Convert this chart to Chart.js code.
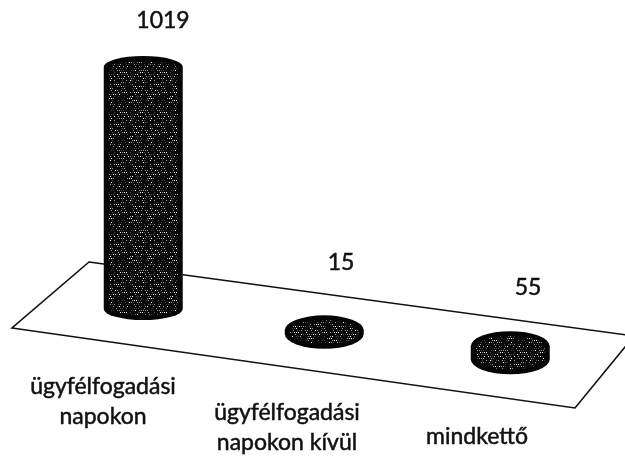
<!DOCTYPE html>
<html>
<head>
<meta charset="utf-8">
<style>
  html, body { margin: 0; padding: 0; background: #fff; }
  canvas { display: block; }
</style>
<script src="https://cdn.jsdelivr.net/npm/chart.js@4/dist/chart.umd.min.js"></script>
</head>
<body>
<canvas id="myChart" width="625" height="459"></canvas>
<script>
const categories = [['ügyfélfogadási', 'napokon'], ['ügyfélfogadási', 'napokon kívül'], ['mindkettő']];
const values = [1019, 15, 55];

// hand placed text, the original chart has them off the bars
const valueLabelPos = [[163, 21], [341, 263], [528, 288]];
const categoryLabelPos = [[103, 387], [287, 413], [477, 437]];
const floorCorners = [[89, 262], [634, 336], [575, 408], [12, 328]];
const floorSlope = 0.137;
const lineHeight = 30;
// the 3d perspective spaces the bars a bit unevenly
const perspectiveShift = [0, -2.5, 0];

// stipple tile, fixed sequence so every render is the same
function makeStipple(ctx) {
  const tile = document.createElement('canvas');
  tile.width = tile.height = 40;
  const t = tile.getContext('2d');
  t.fillStyle = '#0a0a0a';
  t.fillRect(0, 0, 40, 40);
  let seed = 7;
  for (let y = 0; y < 40; y += 2) {
    for (let x = (y % 4) / 2; x < 40; x += 2) {
      seed = (seed * 137 + 59) % 1009;
      if (seed % 10 < 5) {
        t.fillStyle = seed % 10 < 1 ? '#ffffff' : seed % 10 < 3 ? '#9a9a9a' : '#4a4a4a';
        t.fillRect(x, y, 1, 1);
      }
    }
  }
  return ctx.createPattern(tile, 'repeat');
}

function cylinderPath(ctx, x, top, bottom, rx, ry) {
  ctx.beginPath();
  ctx.ellipse(x, top, rx, ry, 0, Math.PI, 0);
  ctx.lineTo(x + rx, bottom);
  ctx.ellipse(x, bottom, rx, ry, 0, 0, Math.PI);
  ctx.closePath();
}

const floorPlugin = {
  id: 'floor',
  beforeDatasetsDraw(chart) {
    const ctx = chart.ctx;
    ctx.save();
    ctx.strokeStyle = '#111';
    ctx.lineWidth = 1.6;
    ctx.beginPath();
    floorCorners.forEach((c, i) => (i ? ctx.lineTo(c[0], c[1]) : ctx.moveTo(c[0], c[1])));
    ctx.closePath();
    ctx.stroke();
    ctx.restore();
  }
};

const cylinderPlugin = {
  id: 'cylinders',
  afterDatasetsDraw(chart) {
    const ctx = chart.ctx;
    const bars = chart.getDatasetMeta(0).data;
    const stipple = makeStipple(ctx);
    ctx.save();
    bars.forEach((bar, i) => {
      // bars stand on the tilted floor
      const x = bar.x + perspectiveShift[i];
      const dy = floorSlope * (x - bars[0].x);
      const top = bar.y + dy;
      const bottom = bar.base + dy;
      const ry = bottom - top > 100 ? 11 : 15;
      const rx = 39.5;
      cylinderPath(ctx, x, top, bottom, rx, ry);
      ctx.fillStyle = '#050505';
      ctx.fill();
      cylinderPath(ctx, x, top, bottom, rx - 5, ry - 5);
      ctx.fillStyle = stipple;
      ctx.fill();
    });
    ctx.restore();
  }
};

const labelPlugin = {
  id: 'labels',
  afterDraw(chart) {
    const ctx = chart.ctx;
    ctx.save();
    ctx.fillStyle = '#111';
    ctx.strokeStyle = '#111';
    ctx.lineWidth = 0.5;
    ctx.textAlign = 'center';
    ctx.textBaseline = 'middle';
    ctx.font = '23px Lato, "Noto Sans", sans-serif';
    const put = (text, x, y) => {
      ctx.fillText(text, x, y);
      ctx.strokeText(text, x, y);
    };
    values.forEach((v, i) => {
      put(String(v), valueLabelPos[i][0], valueLabelPos[i][1]);
    });
    categories.forEach((lines, i) => {
      lines.forEach((line, j) => {
        put(line, categoryLabelPos[i][0], categoryLabelPos[i][1] + j * lineHeight);
      });
    });
    ctx.restore();
  }
};

new Chart(document.getElementById('myChart').getContext('2d'), {
  type: 'bar',
  data: {
    labels: categories,
    datasets: [{ data: values, backgroundColor: 'rgba(0,0,0,0)', borderWidth: 0 }]
  },
  options: {
    responsive: false,
    animation: false,
    layout: { padding: { left: 51.5, right: 23, top: 67, bottom: 150 } },
    plugins: { legend: { display: false }, tooltip: { enabled: false } },
    scales: {
      x: { display: false },
      y: { display: false, min: 0, max: 1019 }
    }
  },
  plugins: [floorPlugin, cylinderPlugin, labelPlugin]
});
</script>
</body>
</html>
